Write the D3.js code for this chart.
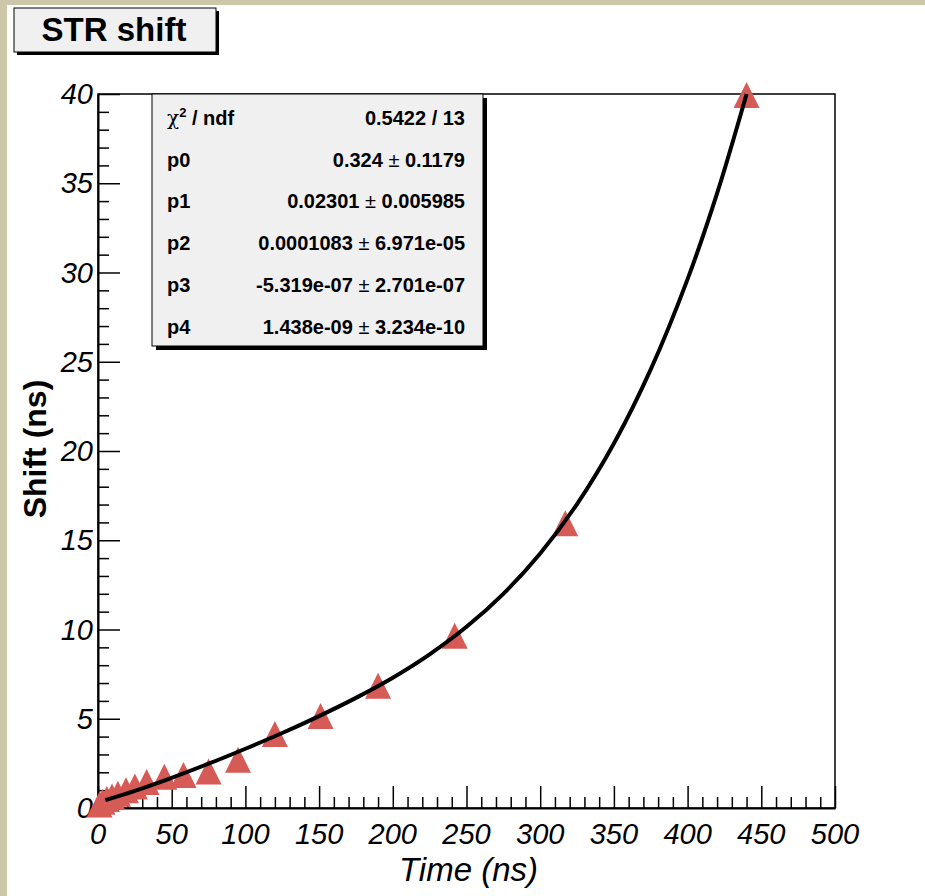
<!DOCTYPE html>
<meta charset="utf-8">
<style>
    body { margin: 0; background: #fff; }
    text { font-family: "Liberation Sans", Arial, sans-serif; }
    .tick-label { font-size: 29px; font-style: italic; }
    .stats text { font-size: 20px; font-weight: bold; }
</style>
<body>
<script src="https://cdn.jsdelivr.net/npm/d3@7"></script>
<script>

    // measured points (time, shift)
    var timeNs  = [1, 3, 6, 9.5, 13.5, 19, 25, 33, 45, 58, 75, 95, 120, 151, 190, 242, 317, 440];
    var shiftNs = [0.2, 0.35, 0.5, 0.65, 0.8, 1.0, 1.2, 1.45, 1.75, 1.85, 2.05, 2.7, 4.15, 5.15, 6.85, 9.65, 15.95, 39.95];

    // fit curve
    var fitX = [5, 25, 50, 75, 100, 125, 150, 175, 200, 225, 250, 275, 300, 325, 350, 375, 400, 420, 440];
    var fitY = [0.44, 0.96, 1.69, 2.48, 3.32, 4.20, 5.15, 6.17, 7.30, 8.61, 10.15, 12.0, 14.26, 17.03, 20.42, 24.57, 29.63, 34.43, 40.0];

    var xTicks = [0, 50, 100, 150, 200, 250, 300, 350, 400, 450, 500];
    var yTicks = [0, 5, 10, 15, 20, 25, 30, 35, 40];

    var statLabels = ["p0", "p1", "p2", "p3", "p4"];
    var statValues = ["0.324", "0.02301", "0.0001083", "-5.319e-07", "1.438e-09"];
    var statErrors = ["0.1179", "0.005985", "6.971e-05", "2.701e-07", "3.234e-10"];

    var W = 925, H = 896;
    var padL = 98, padR = 835, padT = 94, padB = 808;

    var svg = d3.select("body").append("svg")
        .attr("width", W)
        .attr("height", H);

    // canvas border
    svg.append("rect").attr("x", 0).attr("y", 0).attr("width", W).attr("height", 5).attr("fill", "#ccc7a9");
    svg.append("rect").attr("x", 0).attr("y", 0).attr("width", 7).attr("height", H).attr("fill", "#ccc7a9");

    var x = d3.scaleLinear().domain([0, 500]).range([padL, padR]);
    var y = d3.scaleLinear().domain([0, 40]).range([padB, padT]);

    // frame
    svg.append("rect")
        .attr("x", padL).attr("y", padT)
        .attr("width", padR - padL).attr("height", padB - padT)
        .attr("fill", "none").attr("stroke", "#000").attr("stroke-width", 1.5);

    // ticks (drawn inside the frame)
    var xAxis = svg.append("g")
        .attr("transform", "translate(0," + padB + ")")
        .call(d3.axisBottom(x).tickValues(d3.range(0, 501, 10)).tickSize(-11).tickSizeOuter(0).tickFormat(""));
    xAxis.selectAll(".tick line").filter(function (d) { return d % 50 === 0; }).attr("y2", -22);
    xAxis.select(".domain").attr("stroke-width", 2);
    xAxis.selectAll(".tick line").attr("stroke-width", 1.5);

    var yAxis = svg.append("g")
        .attr("transform", "translate(" + padL + ",0)")
        .call(d3.axisLeft(y).tickValues(d3.range(0, 41, 1)).tickSize(-11).tickSizeOuter(0).tickFormat(""));
    yAxis.selectAll(".tick line").filter(function (d) { return d % 5 === 0; }).attr("x2", 22);
    yAxis.select(".domain").attr("stroke-width", 2);
    yAxis.selectAll(".tick line").attr("stroke-width", 1.5);

    // tick labels
    svg.selectAll(".xl").data(xTicks).enter().append("text")
        .attr("class", "tick-label")
        .attr("x", function (d) { return x(d); })
        .attr("y", 844)
        .attr("text-anchor", "middle")
        .text(function (d) { return d; });

    svg.selectAll(".yl").data(yTicks).enter().append("text")
        .attr("class", "tick-label")
        .attr("x", 93)
        .attr("y", function (d) { return y(d) + 10; })
        .attr("text-anchor", "end")
        .text(function (d) { return d; });

    // axis titles
    svg.append("text")
        .attr("x", (padL + padR) / 2 + 2).attr("y", 881)
        .attr("text-anchor", "middle")
        .attr("font-size", 33).attr("font-style", "italic")
        .text("Time (ns)");

    svg.append("text")
        .attr("transform", "translate(46," + ((padT + padB) / 2 - 2) + ") rotate(-90)")
        .attr("text-anchor", "middle")
        .attr("font-size", 32).attr("font-weight", "bold")
        .text("Shift (ns)");

    // data points
    svg.selectAll(".pt").data(timeNs).enter().append("path")
        .attr("fill", "#d65b56")
        .attr("d", function (d, i) {
            var cx = x(d), cy = y(shiftNs[i]), r = 13;
            return "M" + (cx - r) + "," + (cy + r) + "L" + (cx + r) + "," + (cy + r) + "L" + cx + "," + (cy - r) + "Z";
        });

    // fit
    var line = d3.line()
        .x(function (d, i) { return x(fitX[i]); })
        .y(function (d, i) { return y(fitY[i]); })
        .curve(d3.curveCatmullRom);
    svg.append("path")
        .attr("d", line(fitX))
        .attr("fill", "none")
        .attr("stroke", "#000")
        .attr("stroke-width", 4);

    // stats box
    var sx = 152, sy = 94, sw = 331, sh = 252;
    svg.append("rect").attr("x", sx + 4).attr("y", sy + 4).attr("width", sw).attr("height", sh).attr("fill", "#000");
    svg.append("rect").attr("x", sx).attr("y", sy).attr("width", sw).attr("height", sh)
        .attr("fill", "#f0f0f0").attr("stroke", "#000").attr("stroke-width", 1);

    var stats = svg.append("g").attr("class", "stats");
    var rowY = function (i) { return 125 + i * 41.7; };
    var chi = stats.append("text").attr("x", 167).attr("y", rowY(0));
    chi.append("tspan").attr("font-family", "DejaVu Serif").attr("font-weight", "normal").text("χ");
    chi.append("tspan").attr("font-size", 13).attr("dy", -8).text("2");
    chi.append("tspan").attr("dy", 8).text(" / ndf");
    stats.append("text").attr("x", 465).attr("y", rowY(0)).attr("text-anchor", "end").text("0.5422 / 13");

    statLabels.forEach(function (lab, i) {
        stats.append("text").attr("x", 167).attr("y", rowY(i + 1)).text(lab);
        var t = stats.append("text").attr("x", 465).attr("y", rowY(i + 1)).attr("text-anchor", "end");
        t.append("tspan").text(statValues[i]);
        t.append("tspan").attr("font-weight", "normal").text(" ± ");
        t.append("tspan").text(statErrors[i]);
    });

    // title box
    svg.append("rect").attr("x", 17).attr("y", 11).attr("width", 202).attr("height", 44).attr("fill", "#000");
    svg.append("rect").attr("x", 14).attr("y", 8).attr("width", 202).attr("height", 44)
        .attr("fill", "#f0f0f0").attr("stroke", "#000").attr("stroke-width", 1);
    svg.append("text")
        .attr("x", 114).attr("y", 41)
        .attr("text-anchor", "middle")
        .attr("font-size", 33).attr("font-weight", "bold")
        .text("STR shift");

</script>
</body>
